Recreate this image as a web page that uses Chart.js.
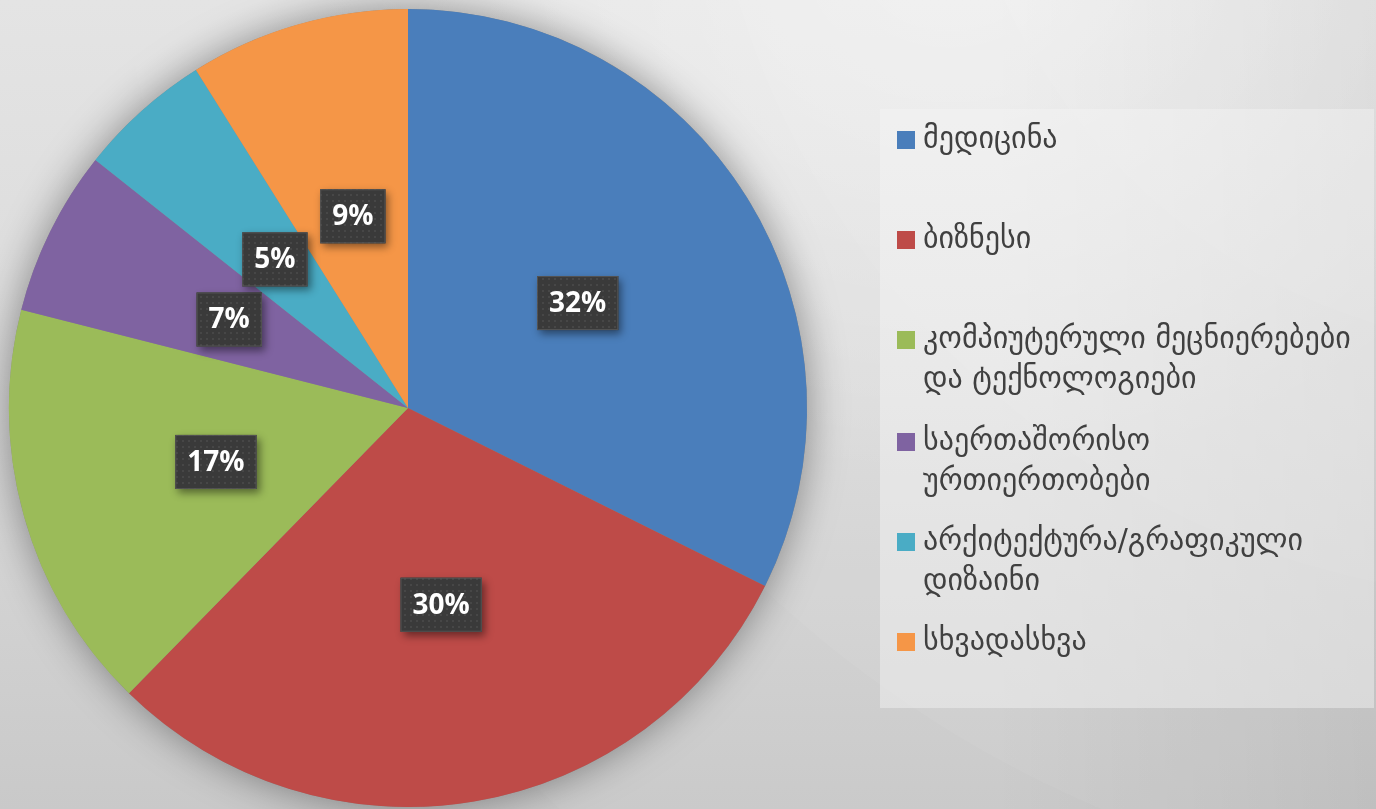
<!DOCTYPE html>
<html>
<head>
<meta charset="utf-8">
<script src="https://cdn.jsdelivr.net/npm/chart.js@4/dist/chart.umd.min.js"></script>
<style>
  html, body { margin: 0; padding: 0; width: 1376px; height: 809px; overflow: hidden; }
  body {
    background:
      radial-gradient(ellipse 650px 520px at 950px -40px, rgba(255,255,255,0.45) 0%, rgba(255,255,255,0) 100%),
      linear-gradient(to right, rgba(0,0,0,0) 72%, rgba(0,0,0,0.07) 100%),
      linear-gradient(to bottom, #e4e4e4 0%, #dadada 50%, #c9c9c9 100%);
  }
  #wrap { position: absolute; left: 0; top: 0; width: 1376px; height: 809px; }
</style>
</head>
<body>
<div id="wrap"><canvas id="c" width="1376" height="809"></canvas></div>
<script>
const categories = [
  "მედიცინა",
  "ბიზნესი",
  "კომპიუტერული მეცნიერებები და ტექნოლოგიები",
  "საერთაშორისო ურთიერთობები",
  "არქიტექტურა/გრაფიკული დიზაინი",
  "სხვადასხვა"
];
const legendLines = [
  ["მედიცინა"],
  ["ბიზნესი"],
  ["კომპიუტერული მეცნიერებები", "და ტექნოლოგიები"],
  ["საერთაშორისო", "ურთიერთობები"],
  ["არქიტექტურა/გრაფიკული", "დიზაინი"],
  ["სხვადასხვა"]
];
const values = [32.3, 29.9, 16.6, 6.7, 5.4, 8.9];
const colors = ["#4A7EBB", "#BE4B48", "#9BBB59", "#7F63A1", "#4AACC5", "#F59647"];

// background swooshes
const bgPlugin = {
  id: 'bg',
  beforeDraw(chart) {
    const ctx = chart.ctx;
    ctx.save();
    const arcs = [
      {cx: 1550, cy: -250, r: 600, a: 0.04},
      {cx: 1550, cy: -250, r: 850, a: 0.04},
      {cx: 1550, cy: -250, r: 1150, a: 0.04},
      {cx: 1550, cy: -250, r: 1450, a: 0.03}
    ];
    arcs.forEach(o => {
      ctx.beginPath();
      ctx.arc(o.cx, o.cy, o.r, 0, Math.PI * 2);
      ctx.fillStyle = 'rgba(255,255,255,' + o.a + ')';
      ctx.fill();
    });
    ctx.restore();
  }
};

// soft shadow behind the pie
const pieShadow = {
  id: 'pieShadow',
  beforeDatasetsDraw(chart) {
    const meta = chart.getDatasetMeta(0);
    if (!meta.data.length) return;
    const a = meta.data[0];
    const ctx = chart.ctx;
    ctx.save();
    ctx.beginPath();
    ctx.arc(a.x, a.y, a.outerRadius, 0, Math.PI * 2);
    ctx.shadowColor = 'rgba(0,0,0,0.4)';
    ctx.shadowBlur = 40;
    ctx.fillStyle = '#888';
    ctx.fill();
    ctx.restore();
  }
};

function dotPattern(ctx) {
  const p = document.createElement('canvas');
  p.width = 6; p.height = 6;
  const g = p.getContext('2d');
  g.fillStyle = '#3a3a3a';
  g.fillRect(0, 0, 6, 6);
  g.fillStyle = '#474747';
  g.fillRect(2, 2, 2, 2);
  return ctx.createPattern(p, 'repeat');
}

// data labels in dark boxes
const dataLabels = {
  id: 'dataLabels',
  afterDatasetsDraw(chart) {
    const ctx = chart.ctx;
    const meta = chart.getDatasetMeta(0);
    const data = chart.data.datasets[0].data;
    const total = data.reduce((s, v) => s + v, 0);
    const pat = dotPattern(ctx);
    ctx.save();
    ctx.font = 'bold 28px "Open Sans", "DejaVu Sans", sans-serif';
    meta.data.forEach((arc, i) => {
      const pos = arc.tooltipPosition();
      const txt = Math.round(data[i] / total * 100) + '%';
      const tw = ctx.measureText(txt).width;
      const w = tw + 24, h = 54;
      const x = pos.x - w / 2, y = pos.y - h / 2;
      ctx.save();
      ctx.shadowColor = 'rgba(0,0,0,0.45)';
      ctx.shadowBlur = 8;
      ctx.shadowOffsetX = 3;
      ctx.shadowOffsetY = 4;
      ctx.fillStyle = '#3a3a3a';
      ctx.fillRect(x, y, w, h);
      ctx.restore();
      ctx.fillStyle = pat;
      ctx.fillRect(x, y, w, h);
      ctx.strokeStyle = 'rgba(90,90,90,0.8)';
      ctx.lineWidth = 1;
      ctx.strokeRect(x + 0.5, y + 0.5, w - 1, h - 1);
      ctx.fillStyle = '#ffffff';
      ctx.textAlign = 'center';
      ctx.textBaseline = 'middle';
      ctx.fillText(txt, pos.x, pos.y + 1);
    });
    ctx.restore();
  }
};

// custom legend on the right
const legendPlugin = {
  id: 'customLegend',
  afterDraw(chart) {
    const ctx = chart.ctx;
    ctx.save();
    ctx.fillStyle = 'rgba(245,245,245,0.45)';
    ctx.fillRect(880, 109, 494, 599);
    const ys = [140, 240, 340, 442, 542, 642];
    ctx.font = '30px "DejaVu Sans", sans-serif';
    ctx.textBaseline = 'middle';
    ctx.textAlign = 'left';
    chart.data.labels.forEach((lab, i) => {
      const y = ys[i];
      ctx.fillStyle = chart.data.datasets[0].backgroundColor[i];
      ctx.fillRect(897, y - 9, 18, 18);
      ctx.fillStyle = '#404040';
      legendLines[i].forEach((ln, k) => {
        ctx.fillText(ln, 923, y + k * 40);
      });
    });
    ctx.restore();
  }
};

new Chart(document.getElementById('c'), {
  type: 'pie',
  data: {
    labels: categories,
    datasets: [{
      data: values,
      backgroundColor: colors,
      borderWidth: 0,
      hoverOffset: 0
    }]
  },
  options: {
    responsive: false,
    animation: false,
    rotation: 0,
    layout: { padding: { left: 9, top: 9, right: 569, bottom: 2 } },
    plugins: {
      legend: { display: false },
      tooltip: { enabled: false }
    }
  },
  plugins: [bgPlugin, pieShadow, dataLabels, legendPlugin]
});
</script>
</body>
</html>
